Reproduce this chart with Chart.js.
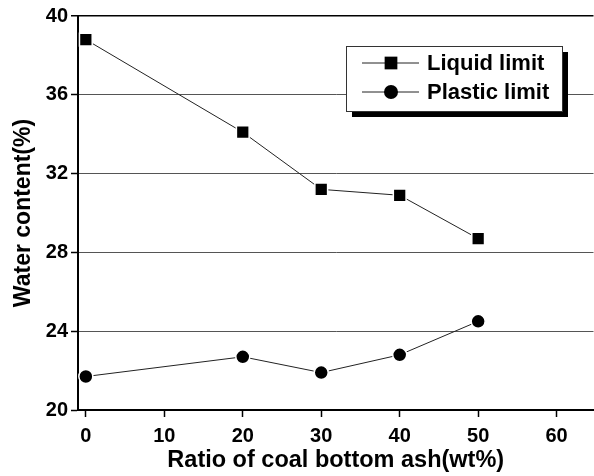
<!DOCTYPE html>
<html>
<head>
<meta charset="utf-8">
<script src="https://cdn.jsdelivr.net/npm/chart.js@4/dist/chart.umd.min.js"></script>
<style>
  html, body { margin: 0; padding: 0; background: #fff; overflow: hidden; }
  /* 10px wider than the window: Chart.js keeps a 10px right margin on the x scale,
     so the plot area still runs to the window edge like the original */
  #wrap { width: 604px; height: 476px; }
</style>
</head>
<body>
<div id="wrap"><canvas id="chart"></canvas></div>
<script>
// ── Data ─────────────────────────────────────────────────────────────────────
const ratio = [0, 20, 30, 40, 50];
const liquidLimit = [38.8, 34.1, 31.2, 30.9, 28.7];
const plasticLimit = [21.7, 22.7, 21.9, 22.8, 24.5];
const xTicks = [0, 10, 20, 30, 40, 50, 60];
const yTicks = [20, 24, 28, 32, 36, 40];

const FONT = '"Liberation Sans", Arial, sans-serif';

// boxed legend with a drop shadow, drawn on top of the plot
const boxLegend = {
  id: 'boxLegend',
  afterDraw(chart) {
    const { ctx } = chart;
    const x = 346, y = 46, w = 216, h = 65;
    ctx.save();
    ctx.fillStyle = '#000';
    ctx.fillRect(x + 6, y + 6, w, h);
    ctx.fillStyle = '#fff';
    ctx.fillRect(x, y, w, h);
    ctx.strokeStyle = '#333';
    ctx.lineWidth = 1;
    ctx.strokeRect(x + 0.5, y + 0.5, w, h);
    chart.data.datasets.forEach((ds, i) => {
      const cy = y + 17 + i * 29;
      ctx.strokeStyle = '#222';
      ctx.lineWidth = 1;
      ctx.beginPath();
      ctx.moveTo(362, cy);
      ctx.lineTo(419, cy);
      ctx.stroke();
      ctx.fillStyle = '#000';
      Chart.helpers.drawPoint(ctx, {
        pointStyle: ds.pointStyle, radius: ds.pointRadius, rotation: 0, borderWidth: 0
      }, 391, cy);
      ctx.fillStyle = '#000';
      ctx.font = 'bold 22px ' + FONT;
      ctx.textAlign = 'left';
      ctx.textBaseline = 'middle';
      ctx.fillText(ds.label, 427, cy + 1);
    });
    ctx.restore();
  }
};

new Chart(document.getElementById('chart').getContext('2d'), {
  type: 'line',
  data: {
    datasets: [
      {
        label: 'Liquid limit',
        data: ratio.map((r, i) => ({ x: r, y: liquidLimit[i] })),
        borderColor: '#222',
        borderWidth: 1,
        pointStyle: 'rect',
        pointRadius: 9,
        pointBackgroundColor: '#000',
        pointBorderColor: '#fff',
        pointBorderWidth: 1.5
      },
      {
        label: 'Plastic limit',
        data: ratio.map((r, i) => ({ x: r, y: plasticLimit[i] })),
        borderColor: '#222',
        borderWidth: 1,
        pointStyle: 'circle',
        pointRadius: 7,
        pointBackgroundColor: '#000',
        pointBorderColor: '#fff',
        pointBorderWidth: 1.5
      }
    ]
  },
  options: {
    responsive: true,
    maintainAspectRatio: false,
    animation: false,
    layout: { padding: { top: 16, right: 0, left: 0, bottom: 0 } },
    plugins: { legend: { display: false }, tooltip: { enabled: false } },
    scales: {
      x: {
        type: 'linear',
        min: -1,
        max: 64.7,
        afterBuildTicks: s => { s.ticks = xTicks.map(v => ({ value: v })); },
        afterFit: s => { s.height = 66; },
        grid: { drawOnChartArea: false, drawTicks: true, tickLength: 7, tickColor: '#000', tickWidth: 1.5 },
        border: { color: '#000', width: 2 },
        ticks: { color: '#000', padding: 7, font: { family: FONT, size: 20, weight: 'bold' } },
        title: {
          display: true,
          text: 'Ratio of coal bottom ash(wt%)',
          color: '#000',
          padding: { top: 0, bottom: 1 },
          font: { family: FONT, size: 23.5, weight: 'bold' }
        }
      },
      y: {
        min: 20,
        max: 40,
        afterBuildTicks: s => { s.ticks = yTicks.map(v => ({ value: v })); },
        afterFit: s => { s.width = 78; },
        grid: {
          color: c => (c.tick && c.tick.value === 40 ? '#000' : '#555'),
          lineWidth: c => (c.tick && c.tick.value === 40 ? 1.5 : 1),
          tickLength: 7,
          tickColor: '#000',
          tickWidth: 1.5
        },
        border: { color: '#000', width: 2 },
        ticks: { color: '#000', padding: 3, font: { family: FONT, size: 20, weight: 'bold' } },
        title: {
          display: true,
          text: 'Water content(%)',
          color: '#000',
          padding: { top: 10, bottom: 0 },
          font: { family: FONT, size: 23, weight: 'bold' }
        }
      }
    }
  },
  plugins: [boxLegend]
});
</script>
</body>
</html>
